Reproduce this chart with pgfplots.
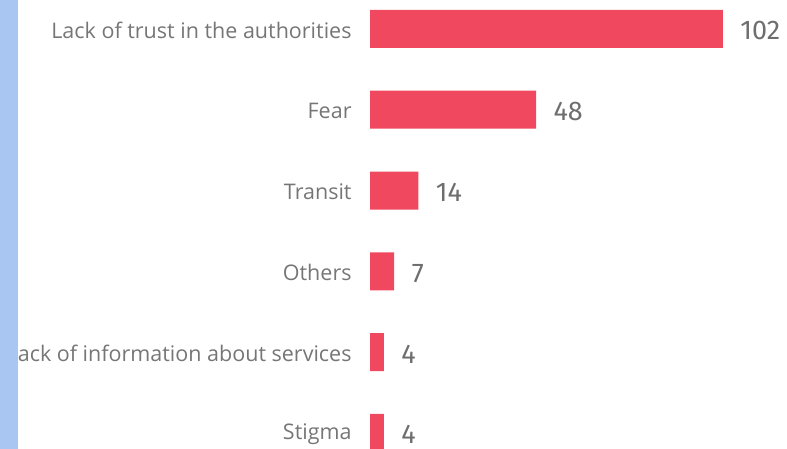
\documentclass[border=0pt]{standalone}
\usepackage{fontspec}
\setmainfont{Open Sans}
\newfontfamily\valfont{Fira Sans}
\usepackage{pgfplots}
\pgfplotsset{compat=1.18}
\definecolor{barred}{HTML}{F0485F}
\definecolor{stripblue}{HTML}{A9C5F2}
\definecolor{labgray}{HTML}{767676}
\definecolor{valgray}{HTML}{6E6E6E}
\begin{document}
\begin{tikzpicture}
\useasboundingbox (0,0) rectangle (787pt,449pt);
\clip (0,0) rectangle (787pt,449pt);
\begin{axis}[
  at={(0,0)}, anchor=south west,
  scale only axis, width=787pt, height=449pt,
  xbar, bar width=38pt, bar shift=0pt,
  xmin=-106.94, xmax=120.52,
  ymin=-0.359, ymax=5.201, y dir=reverse,
  axis line style={draw=none}, tick style={draw=none},
  xtick=\empty,
  ytick={0,1,2,3,4,5},
  yticklabels={Lack of trust in the authorities, Fear, Transit, Others,
    Lack of information about services, Stigma},
  yticklabel style={anchor=east, inner sep=0pt, xshift=356pt, yshift=-1pt,
    font=\fontsize{21.5}{24}\selectfont, text=labgray},
  /pgf/number format/assume math mode=true,
  nodes near coords,
  nodes near coords style={anchor=west, xshift=14pt, yshift=-2pt,
    font=\valfont\fontsize{27}{30}\selectfont, text=valgray},
  clip=true,
]
\addplot[fill=barred, draw=none] coordinates {
  (102,0) (48,1) (14,2) (7,3) (4,4) (4,5)
};
\end{axis}
\fill[stripblue] (0,0) rectangle (18pt,449pt);
\end{tikzpicture}
\end{document}
